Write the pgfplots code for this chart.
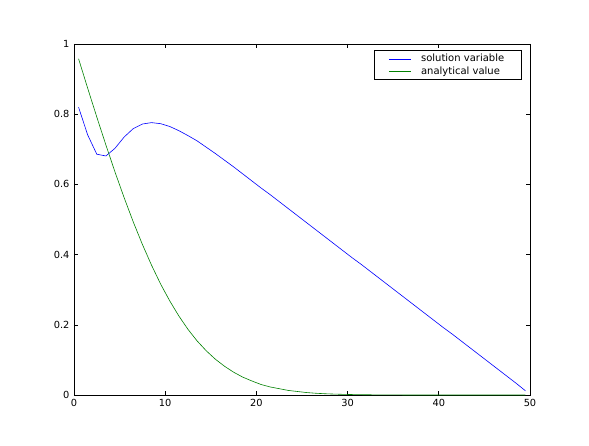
\documentclass[border=0pt]{standalone}
\usepackage{fontspec}
\setmainfont{DejaVu Sans}
\usepackage{pgfplots}
\pgfplotsset{compat=1.18}
% legend sample in an explicit colour; blank moves at 0 and 46pt keep the cell wide
\pgfplotsset{legline/.style={legend image code/.code={
				\draw[#1, line width=0.6pt] (0pt,0pt) (14pt,0pt) -- (36pt,0pt) (46pt,0pt);}}}

\begin{document}
\begin{tikzpicture}[x=1pt,y=1pt]
	% fixes the page size to the reference frame (589 x 445)
	\path (-74pt,-50pt) rectangle (515pt,395pt);
	\begin{axis}[
		at={(0pt,0pt)}, anchor=south west,
		width=456pt, height=351pt,
		scale only axis,
		xmin=0, xmax=50,
		ymin=0, ymax=1,
		xtick={0,10,20,30,40,50},
		ytick={0,0.2,0.4,0.6,0.8,1},
		tick align=inside,
		major tick length=4pt,
		tick style={black, line width=0.6pt},
		axis line style={black, line width=0.8pt},
		/pgf/number format/assume math mode=true,
		ticklabel style={font=\fontsize{9.8}{11}\selectfont},
		xticklabel style={yshift=-1pt},
		yticklabel style={xshift=-1pt},
		legend style={
				at={(1,1)}, anchor=north east,
				xshift=-8.5pt, yshift=-6.5pt,
				draw=black, line width=0.6pt,
				font=\fontsize{10}{11}\selectfont,
				inner xsep=0pt, inner ysep=1.5pt,
				column sep=0pt, row sep=-0.8pt,
				nodes={inner xsep=0pt},
				cells={anchor=west},
			},
		clip=false,
		]
		\addplot[blue, line width=0.6pt, legline=blue] coordinates {
				(0.5,0.820) (1.5,0.741) (2.5,0.686) (3.5,0.681) (4.5,0.703)
				(5.5,0.735) (6.5,0.759) (7.5,0.772) (8.5,0.776) (9.5,0.773)
				(10.5,0.765) (11.5,0.753) (12.5,0.739) (13.5,0.724) (14.5,0.706)
				(15.5,0.688) (16.5,0.669) (17.5,0.650) (18.5,0.630) (19.5,0.610)
				(20.5,0.590) (21.5,0.571) (22.5,0.551) (23.5,0.531) (24.5,0.511)
				(25.5,0.491) (26.5,0.471) (27.5,0.451) (28.5,0.431) (29.5,0.411)
				(30.5,0.391) (31.5,0.372) (32.5,0.352) (33.5,0.332) (34.5,0.312)
				(35.5,0.292) (36.5,0.272) (37.5,0.252) (38.5,0.232) (39.5,0.212)
				(40.5,0.192) (41.5,0.173) (42.5,0.153) (43.5,0.133) (44.5,0.113)
				(45.5,0.093) (46.5,0.073) (47.5,0.053) (48.5,0.033) (49.5,0.012)
			};
		\addplot[green!50!black, line width=0.6pt, legline=green!50!black] coordinates {
				(0.5,0.958) (1.5,0.874) (2.5,0.792) (3.5,0.712) (4.5,0.635)
				(5.5,0.562) (6.5,0.493) (7.5,0.429) (8.5,0.370) (9.5,0.316)
				(10.5,0.268) (11.5,0.225) (12.5,0.187) (13.5,0.154) (14.5,0.126)
				(15.5,0.102) (16.5,0.082) (17.5,0.065) (18.5,0.051) (19.5,0.040)
				(20.5,0.030) (21.5,0.023) (22.5,0.018) (23.5,0.013) (24.5,0.010)
				(25.5,0.007) (26.5,0.005) (27.5,0.0036) (28.5,0.0026) (29.5,0.0019)
				(30.5,0.0013) (31.5,0.0009) (32.5,0.0006) (33.5,0.0004) (34.5,0.0003)
				(35.5,0.0002) (36.5,0.0001) (37.5,0) (38.5,0) (39.5,0)
				(40.5,0) (41.5,0) (42.5,0) (43.5,0) (44.5,0)
				(45.5,0) (46.5,0) (47.5,0) (48.5,0) (49.5,0)
			};
		\legend{solution variable\rule{17pt}{0pt}, analytical value}
	\end{axis}
\end{tikzpicture}
\end{document}
